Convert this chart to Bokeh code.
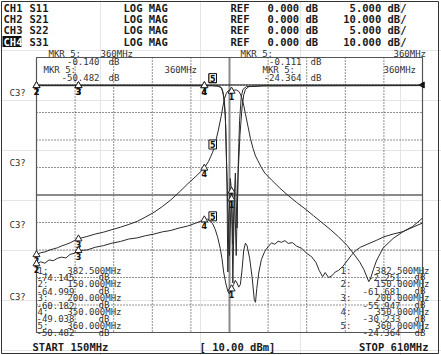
from bokeh.plotting import figure
from bokeh.models import Range1d
from bokeh.embed import file_html
from bokeh.resources import INLINE
from bokeh.core.properties import value

# ---------------- data ----------------
START_MHZ, STOP_MHZ = 150, 610
channels = ["CH1", "CH2", "CH3", "CH4"]
params = ["S11", "S21", "S22", "S31"]
formats = ["LOG MAG"] * 4
ref_db = [0.0, 0.0, 0.0, 0.0]
scale_db = [5.0, 10.0, 5.0, 10.0]
source_power_dbm = 10.00

marker_ids = [1, 2, 3, 4, 5]
marker_mhz = [382.5, 150.0, 200.0, 350.0, 360.0]
s21_mkr_db = [-2.251, -61.681, -55.947, -30.233, -24.364]
s31_mkr_db = [-74.145, -64.999, -60.182, -49.038, -50.482]
s11_mkr_db = [-19.3, -0.12, -0.13, -0.13, -0.140]
s22_mkr_db = [-20.7, -0.10, -0.10, -0.11, -0.111]

s21_pts = [(150, -61.7), (155, -61.0), (160, -60.7), (165, -60.1), (170, -59.6), (175, -59.2),
           (180, -58.5), (185, -58.0), (190, -57.4), (195, -56.6), (200, -55.9), (210, -55.1),
           (220, -54.2), (230, -53.5), (240, -52.6), (250, -51.7), (260, -50.7), (270, -49.6),
           (280, -48.0), (290, -46.3), (300, -44.2), (310, -41.8), (320, -39.0), (330, -36.0),
           (340, -33.2), (350, -30.2), (355, -27.8), (360, -24.4), (364, -20.0), (367, -16.0),
           (370, -11.5), (372, -8.0), (374, -5.0), (376, -3.2), (378, -2.2), (380, -1.9),
           (382.5, -2.25), (385, -1.9), (388, -1.8), (391, -2.3), (393, -3.3), (395, -5.0),
           (397, -7.5), (399, -10.5), (402, -15.0), (405, -19.5), (408, -23.0), (411, -25.8),
           (414, -27.6), (418, -30.0), (422, -32.0), (430, -34.5), (440, -37.5), (450, -40.2),
           (460, -42.7), (470, -45.0), (480, -47.5), (490, -50.0), (500, -52.5), (510, -55.2),
           (520, -58.3), (528, -61.4), (535, -64.3), (540, -67.0), (544, -70.0), (546, -71.5),
           (548, -70.5), (551, -67.5), (555, -64.0), (563, -59.3), (575, -55.8), (587, -53.3),
           (600, -51.5), (610, -50.2)]

s31_pts = [(150, -65.0), (155, -64.3), (160, -64.8), (165, -63.6), (170, -63.9), (175, -63.0),
           (180, -62.6), (185, -62.9), (190, -61.6), (195, -61.2), (200, -60.2), (210, -60.0),
           (220, -59.0), (230, -58.4), (240, -57.5), (250, -56.9), (260, -56.0), (270, -55.6),
           (280, -54.8), (290, -54.2), (300, -53.4), (310, -52.9), (320, -52.0), (330, -51.3),
           (340, -50.2), (345, -49.6), (350, -49.0), (354, -48.8), (357, -49.3), (360, -50.5),
           (363, -52.5), (366, -55.5), (369, -59.5), (371, -63.0), (373, -68.0), (375.5, -72.0),
           (378, -75.0), (380, -76.0), (382.5, -74.1), (385, -72.5), (387, -71.0), (389, -72.0),
           (391, -73.5), (393, -72.5), (395, -67.0), (397, -60.0), (399, -57.5), (401, -58.5),
           (404, -63.0), (407, -70.0), (409.5, -78.0), (411, -79.0), (412.5, -74.0), (415, -68.0),
           (418, -63.5), (422, -60.5), (426, -58.8), (430, -57.4), (434, -57.9), (438, -56.8),
           (442, -57.2), (446, -56.6), (450, -57.6), (455, -57.3), (460, -58.6), (466, -59.4),
           (472, -61.2), (478, -62.5), (483, -64.5), (487, -67.5), (491, -69.7), (494, -68.2),
           (498, -70.0), (502, -69.4), (506, -68.0), (510, -67.4), (515, -66.0), (520, -64.0),
           (525, -62.0), (530, -60.3), (536, -59.0), (545, -57.8), (555, -56.5), (564, -55.2),
           (575, -54.2), (587, -53.3), (598, -51.5), (610, -48.4)]

s11_pts = [(150, -0.12), (200, -0.12), (250, -0.13), (300, -0.13), (340, -0.14), (360, -0.14),
           (366, -0.2), (370, -0.5), (372, -1.2), (374, -3.0), (375.5, -7.5), (377, -18.0),
           (378, -34.0), (379.5, -24.0), (381, -17.0), (382.5, -19.3), (384, -29.0), (385.5, -21.0),
           (387, -16.0), (389, -26.0), (390.5, -14.0), (392, -6.5), (394, -2.2), (396, -0.8),
           (400, -0.3), (420, -0.15), (500, -0.12), (610, -0.10)]

s22_pts = [(150, -0.10), (250, -0.10), (350, -0.11), (360, -0.111), (368, -0.2), (371, -0.6),
           (373, -2.0), (375, -5.5), (376.5, -14.0), (378, -22.0), (380, -31.0), (381.5, -23.0),
           (382.5, -20.7), (384, -36.0), (386, -19.0), (388, -31.0), (390, -17.0), (392.5, -9.0),
           (395, -4.0), (397, -1.8), (399, -0.8), (403, -0.3), (420, -0.15), (610, -0.10)]

# ---------------- layout ----------------
W, H = 441, 355
GL, GR, GT, GB = 36, 422, 57, 332
NDIV = 10
DIVPX = (GB - GT) / NDIV
REF_PX = GT + DIVPX
PER = (STOP_MHZ - START_MHZ) / (GR - GL)

def db_range(scale):
    return Range1d(start=-scale * (H - REF_PX) / DIVPX, end=scale * REF_PX / DIVPX)

p = figure(width=W, height=H, x_range=Range1d(0, W), y_range=Range1d(H, 0),
           min_border=0, toolbar_location=None, output_backend="svg",
           x_axis_location=None, y_axis_location=None)
p.outline_line_color = None
p.background_fill_color = "white"
p.border_fill_color = "white"
p.extra_x_ranges = {"mhz": Range1d(start=START_MHZ - GL * PER, end=STOP_MHZ + (W - GR) * PER)}
p.extra_y_ranges = {"db10": db_range(10.0), "db5": db_range(5.0)}

TXT = "#1a1a1a"
MONO = value("DejaVu Sans Mono")

# outer frame
p.quad(left=[1], right=[438], top=[1], bottom=[353], fill_color=None, line_color="#333", line_width=1)

# graticule
top_db = ref_db[1] + scale_db[1]
bot_db = ref_db[1] - scale_db[1] * (NDIV - 1)
step_f = (STOP_MHZ - START_MHZ) / NDIV
vf = [START_MHZ + k * step_f for k in range(1, NDIV)]
p.segment(x0=vf, y0=[top_db] * len(vf), x1=vf, y1=[bot_db] * len(vf),
          x_range_name="mhz", y_range_name="db10", line_color="#222", line_dash="1 2", line_width=1)
hd = [top_db - k * scale_db[1] for k in range(1, NDIV)]
p.segment(x0=[START_MHZ] * len(hd), y0=hd, x1=[STOP_MHZ] * len(hd), y1=hd,
          x_range_name="mhz", y_range_name="db10", line_color="#222", line_dash="1 2", line_width=1)
# centre cross (solid)
cf = (START_MHZ + STOP_MHZ) / 2
cdb = top_db - scale_db[1] * NDIV / 2
p.segment(x0=[cf, START_MHZ], y0=[top_db, cdb], x1=[cf, STOP_MHZ], y1=[bot_db, cdb],
          x_range_name="mhz", y_range_name="db10", line_color="#8a8a8a", line_width=2)
# reference line
p.segment(x0=[START_MHZ], y0=[ref_db[1]], x1=[STOP_MHZ], y1=[ref_db[1]],
          x_range_name="mhz", y_range_name="db10", line_color="#111", line_width=1)
p.quad(left=[START_MHZ], right=[STOP_MHZ], top=[top_db], bottom=[bot_db], fill_color=None,
       line_color="#555", line_width=1.2, x_range_name="mhz", y_range_name="db10")
# reference position arrow at right
p.scatter(x=[STOP_MHZ], y=[ref_db[1]], marker="triangle", angle=1.5708, size=6,
          fill_color="#111", line_color="#111", x_range_name="mhz", y_range_name="db10")

# traces
traces = [(s11_pts, "db5"), (s22_pts, "db5"), (s21_pts, "db10"), (s31_pts, "db10")]
for pts, rn in traces:
    p.line([a for a, b in pts], [b for a, b in pts], x_range_name="mhz", y_range_name=rn,
           line_color="#2a2a2a", line_width=1)

# markers
mk_sets = [(s11_mkr_db, "db5"), (s22_mkr_db, "db5"), (s21_mkr_db, "db10"), (s31_mkr_db, "db10")]
for vals, rn in mk_sets:
    f_n = [f for f, i in zip(marker_mhz, marker_ids) if i != 5]
    v_n = [v for v, i in zip(vals, marker_ids) if i != 5]
    t_n = [str(i) for i in marker_ids if i != 5]
    p.scatter(x=f_n, y=v_n, marker="triangle", size=7, fill_color="white", line_color="#222",
              x_range_name="mhz", y_range_name=rn)
    p.text(x=f_n, y=v_n, text=t_n, x_range_name="mhz", y_range_name=rn, text_align="center",
           text_baseline="top", y_offset=2, text_font=value("DejaVu Sans"), text_font_style="bold",
           text_font_size="8px", text_color="#111")
    f5 = [f for f, i in zip(marker_mhz, marker_ids) if i == 5]
    v5 = [v for v, i in zip(vals, marker_ids) if i == 5]
    p.text(x=f5, y=v5, text=["5"], x_range_name="mhz", y_range_name=rn, text_align="center",
           text_baseline="bottom", y_offset=-3, text_font=value("DejaVu Sans"), text_font_style="bold",
           text_font_size="8px", text_color="#111", border_line_color="#111",
           background_fill_color="white", padding=1)

# header
HDR = dict(text_font=MONO, text_font_style="bold", text_font_size="10.5px", text_baseline="middle")
row_y = [7, 18, 29.5, 41]
p.quad(left=[2], right=[21], top=[35.5], bottom=[46.5], fill_color="#111", line_color=None)
p.text(x=[3] * 4, y=row_y, text=channels, text_color=[TXT, TXT, TXT, "white"], **HDR)
p.text(x=[29] * 4, y=row_y, text=params, text_color=TXT, **HDR)
p.text(x=[123] * 4, y=row_y, text=formats, text_color=TXT, **HDR)
p.text(x=[230] * 4, y=row_y, text=["REF"] * 4, text_color=TXT, **HDR)
p.text(x=[267] * 4, y=row_y, text=[f"{r:.3f} dB" for r in ref_db], text_color=TXT, **HDR)
p.text(x=[406] * 4, y=row_y, text=[f"{s:.3f} dB/" for s in scale_db], text_color=TXT,
       text_align="right", **HDR)

# footer
p.text(x=[32], y=[346], text=[f"START {START_MHZ}MHz"], text_color=TXT, **HDR)
p.text(x=[199], y=[346], text=[f"[ {source_power_dbm:.2f} dBm]"], text_color=TXT, **HDR)
p.text(x=[428], y=[346], text=[f"STOP {STOP_MHZ}MHz"], text_color=TXT, text_align="right", **HDR)

SM = dict(text_font=MONO, text_font_size="9px", text_baseline="middle", text_color="#333")

# side labels
p.text(x=[9] * 4, y=[92, 162, 224, 296], text=["C3?"] * 4, **SM)

# top marker-5 annotations
i5 = marker_ids.index(5)
f5txt = f"{int(marker_mhz[i5])}MHz"
blocks = [(48, 100, 99, 53, s11_mkr_db[i5]), (43, 164, 99, 69, s31_mkr_db[i5]),
          (240, 393, 301, 53, s22_mkr_db[i5]), (262, 383, 301, 69, s21_mkr_db[i5])]
for xm, xf, xv, yy, v in blocks:
    p.text(x=[xm], y=[yy], text=["MKR  5:"], **SM)
    p.text(x=[xf], y=[yy], text=[f5txt], **SM)
    p.text(x=[xv], y=[yy + 8], text=[f"{v:.3f}"], text_align="right", **SM)
    p.text(x=[xv + 9], y=[yy + 8], text=["dB"], **SM)

# marker lists
list_y0, list_dy = 270, 6.9
ly_f = [list_y0 + 2 * k * list_dy for k in range(5)]
ly_v = [y + list_dy for y in ly_f]
lbl = [f"{i}:" for i in marker_ids]
fr = [f"{f:.3f}MHz" for f in marker_mhz]
# left list (S31)
p.text(x=[37] * 5, y=ly_f, text=lbl, **SM)
p.text(x=[121] * 5, y=ly_f, text=fr, text_align="right", **SM)
p.text(x=[36] * 5, y=ly_v, text=[f"{v:.3f}" for v in s31_mkr_db], **SM)
p.text(x=[98] * 5, y=ly_v, text=["dB"] * 5, **SM)
# right list (S21)
p.text(x=[340] * 5, y=ly_f, text=lbl, **SM)
p.text(x=[429] * 5, y=ly_f, text=fr, text_align="right", **SM)
p.text(x=[400] * 5, y=ly_v, text=[f"{v:.3f}" for v in s21_mkr_db], text_align="right", **SM)
p.text(x=[414] * 5, y=ly_v, text=["dB"] * 5, **SM)

open("out.html", "w").write(file_html(p, INLINE))
